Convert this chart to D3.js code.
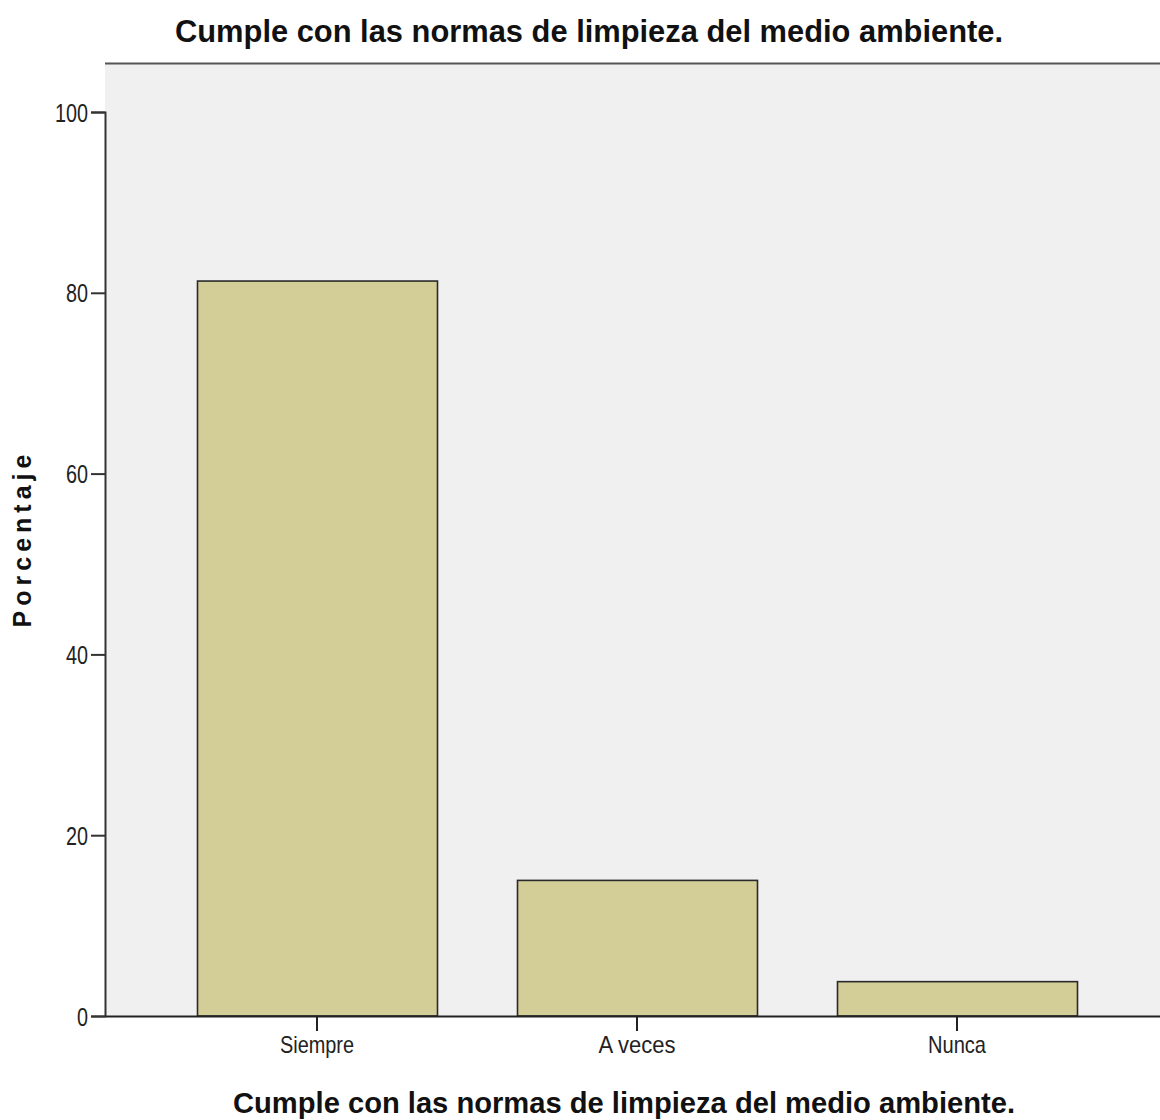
<!DOCTYPE html>
<html><head><meta charset="utf-8">
<script src="https://cdn.jsdelivr.net/npm/d3@7"></script>
<style>body{margin:0;background:#fff}svg{display:block}text{font-family:"Liberation Sans",Arial,sans-serif}</style>
</head><body>
<script>
const categories = ["Siempre", "A veces", "Nunca"];
const values = [81.3, 15.0, 3.8];
const yTicks = [0, 20, 40, 60, 80, 100];
const title = "Cumple con las normas de limpieza del medio ambiente.";
const xTitle = "Cumple con las normas de limpieza del medio ambiente.";
const yTitle = "Porcentaje";

const W = 1160, H = 1120;
const L = 105, T = 63, R = 1169, B = 1016;
const svg = d3.select("body").append("svg").attr("width", W).attr("height", H);

const y = d3.scaleLinear().domain([0, 100]).range([B, 112]);
const x = d3.scaleBand().domain(categories).range([L, R]).paddingInner(0.25).paddingOuter(0.2875);

svg.append("rect").attr("x", L).attr("y", T).attr("width", R - L).attr("height", B - T).attr("fill", "#f0f0f0");
svg.append("line").attr("x1", L).attr("x2", R).attr("y1", T + 0.5).attr("y2", T + 0.5).attr("stroke", "#555").attr("stroke-width", 2);

svg.selectAll("rect.bar").data(values).enter().append("rect").attr("class", "bar")
  .attr("x", (d, i) => x(categories[i]) + 0.5)
  .attr("y", d => y(d))
  .attr("width", x.bandwidth())
  .attr("height", d => B - y(d))
  .attr("fill", "#d3ce98").attr("stroke", "#2a2a2a").attr("stroke-width", 1.6);

const ya = svg.append("g").attr("transform", `translate(${L},0)`)
  .call(d3.axisLeft(y).tickValues(yTicks).tickSize(14).tickPadding(3).tickFormat(d3.format("d")));
ya.select(".domain").attr("stroke", "#333").attr("stroke-width", 2);
ya.selectAll(".tick line").attr("stroke", "#333").attr("stroke-width", 2);
ya.selectAll(".tick text").attr("font-size", 25).attr("fill", "#222").attr("dy", "0.36em")
  .attr("textLength", d => String(d).length * 11).attr("lengthAdjust", "spacingAndGlyphs");

const xa = svg.append("g").attr("transform", `translate(0,${B})`)
  .call(d3.axisBottom(x).tickSize(15).tickPadding(5).tickSizeOuter(0));
xa.select(".domain").attr("stroke", "#222").attr("stroke-width", 2);
xa.selectAll(".tick line").attr("stroke", "#222").attr("stroke-width", 2);
const xLen = {"Siempre": 74, "A veces": 77, "Nunca": 58};
xa.selectAll(".tick text").attr("font-size", 24).attr("fill", "#222")
  .attr("textLength", d => xLen[d]).attr("lengthAdjust", "spacingAndGlyphs");

svg.append("text").attr("x", 589).attr("y", 42).attr("text-anchor", "middle")
  .attr("font-size", 31).attr("font-weight", "bold").attr("fill", "#111")
  .attr("textLength", 828).attr("lengthAdjust", "spacingAndGlyphs").text(title);

svg.append("text").attr("x", 624).attr("y", 1113).attr("text-anchor", "middle")
  .attr("font-size", 29).attr("font-weight", "bold").attr("fill", "#111")
  .attr("textLength", 782).attr("lengthAdjust", "spacingAndGlyphs").text(xTitle);

svg.append("text").attr("transform", "translate(31,541) rotate(-90)").attr("text-anchor", "middle")
  .attr("font-size", 25).attr("font-weight", "bold").attr("fill", "#111")
  .attr("textLength", 173).attr("lengthAdjust", "spacing").text(yTitle);
</script>
</body></html>
